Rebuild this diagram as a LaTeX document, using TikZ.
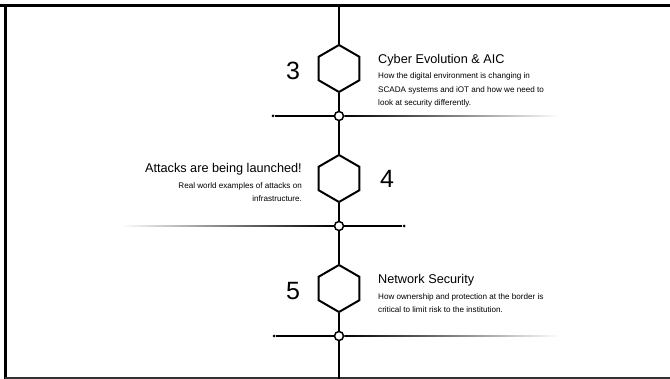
\documentclass[tikz,border=0pt]{standalone}
\usepackage{fontspec}
\setmainfont{Liberation Sans}
\usepackage{xcolor}
\usetikzlibrary{shapes.geometric, positioning}

\tikzset{
    hexa/.style={draw, line width=2pt, fill=white, regular polygon, regular polygon sides=6,
        shape border rotate=30, minimum size=47pt, inner sep=0pt},
    knot/.style={draw, circle, fill=white, line width=1.5pt, minimum size=9pt, inner sep=0pt},
    tip/.style={circle, fill=black, minimum size=3pt, inner sep=0pt},
    spine/.style={line width=2pt},
    rung/.style={line width=1.3pt},
    num/.style={font=\fontsize{25}{25}\selectfont, inner sep=0pt},
    headline/.style={font=\fontsize{12.7}{14}\selectfont, inner sep=0pt},
    blurb/.style={font=\fontsize{8.1}{13.5}\selectfont, inner sep=0pt}
}

\begin{document}
\begin{tikzpicture}[x=1pt, y=-1pt]
    \useasboundingbox (0,0) rectangle (670,379);

    % 1. Khung ngoài
    \draw[line width=3pt] (0,6) -- (670,6);
    \draw[line width=3pt] (5,6) -- (5,379);
    \draw[line width=1.2pt, black!80] (5,378) -- (670,378);

    % 2. Các nút trên trục
    \coordinate (top) at (339,6);
    \coordinate (bottom) at (339,379);
    \node[hexa] (hex3) at (339,68.5) {};
    \node[hexa] (hex4) at (339,178.5) {};
    \node[hexa] (hex5) at (339,288.5) {};
    \node[knot] (knot3) at (339,116) {};
    \node[knot] (knot4) at (339,226) {};
    \node[knot] (knot5) at (339,336) {};
    \node[tip] (tip3) at (273,116) {};
    \node[tip] (tip4) at (404,226) {};
    \node[tip] (tip5) at (274,336) {};
    \coordinate (fade3) at (560,116);
    \coordinate (fade4) at (120,226);
    \coordinate (fade5) at (560,336);

    % 3. Trục dọc
    \draw[spine] (top) -- (hex3) -- (knot3) -- (hex4) -- (knot4) -- (hex5) -- (knot5) -- (bottom);

    % 4. Các nhánh ngang (một đầu chấm, một đầu mờ dần)
    \draw[rung] (tip3) -- (knot3);
    \shade[left color=black, right color=white] ([yshift=0.65pt]knot3.east) rectangle ([yshift=-0.65pt]fade3);
    \draw[rung] (knot4) -- (tip4);
    \shade[left color=white, right color=black] ([yshift=0.65pt]fade4) rectangle ([yshift=-0.65pt]knot4.west);
    \draw[rung] (tip5) -- (knot5);
    \shade[left color=black, right color=white] ([yshift=0.65pt]knot5.east) rectangle ([yshift=-0.65pt]fade5);

    % 5. Số thứ tự
    \node[num, anchor=base] (n3) at (293,80) {3};
    \node[num, anchor=base] (n4) at (387,188) {4};
    \node[num, anchor=base] (n5) at (293,300) {5};

    % 6. Tiêu đề và mô tả (mốc base = dòng cuối)
    \node[headline, anchor=base west] (head3) at (378,64) {Cyber Evolution \& AIC};
    \node[blurb, anchor=base west, align=left] (text3) at (378,106)
        {How the digital environment is changing in\\SCADA systems and iOT and how we need to\\look at security differently.};

    \node[headline, anchor=base east] (head4) at (302,173) {Attacks are being launched!};
    \node[blurb, anchor=base east, align=right] (text4) at (302,202)
        {Real world examples of attacks on\\infrastructure.};

    \node[headline, anchor=base west] (head5) at (378,283.5) {Network Security};
    \node[blurb, anchor=base west, align=left] (text5) at (378,313)
        {How ownership and protection at the border is\\critical to limit risk to the institution.};
\end{tikzpicture}
\end{document}
